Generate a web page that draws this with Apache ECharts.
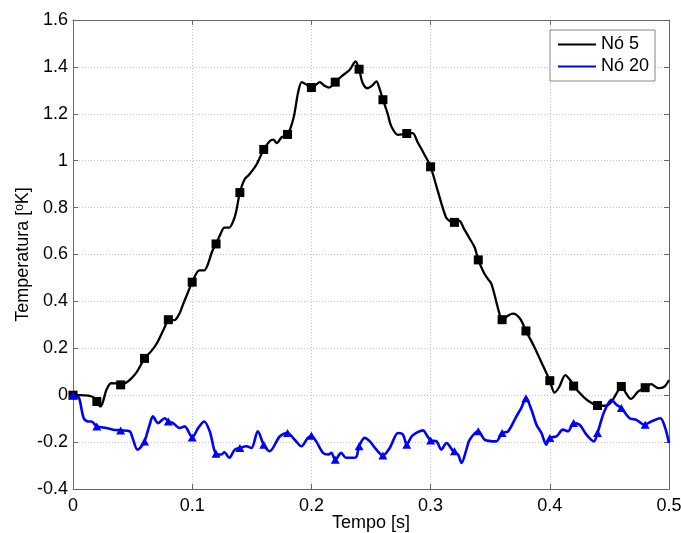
<!DOCTYPE html>
<html>
<head>
<meta charset="utf-8">
<script src="https://cdn.jsdelivr.net/npm/echarts@6/dist/echarts.min.js"></script>
<style>html,body{margin:0;padding:0;background:#fff;}#c{width:681px;height:533px;}</style>
</head>
<body>
<div id="c"></div>
<script>
// Nó 5 (black) line samples
const t5 = [0,0.006,0.013,0.018,0.020,0.023,0.025,0.028,0.032,0.036,0.040,0.045,0.049,0.053,0.056,0.060,0.066,0.071,0.077,0.080,0.085,0.089,0.092,0.096,0.100,0.106,0.110,0.117,0.120,0.124,0.127,0.131,0.135,0.137,0.140,0.144,0.148,0.154,0.160,0.165,0.168,0.171,0.175,0.180,0.185,0.189,0.192,0.196,0.200,0.204,0.207,0.211,0.215,0.220,0.225,0.232,0.237,0.240,0.243,0.247,0.251,0.2545,0.257,0.260,0.264,0.267,0.2727,0.276,0.280,0.285,0.289,0.294,0.300,0.306,0.313,0.317,0.320,0.324,0.328,0.333,0.337,0.340,0.344,0.347,0.351,0.357,0.360,0.3655,0.369,0.375,0.380,0.387,0.394,0.400,0.404,0.408,0.413,0.418,0.420,0.428,0.434,0.440,0.4475,0.452,0.456,0.460,0.464,0.468,0.474,0.480,0.485,0.491,0.496,0.500];
const y5 = [0,0.0,-0.002,-0.012,-0.027,-0.048,-0.03,0.022,0.051,0.05,0.044,0.055,0.072,0.095,0.121,0.157,0.19,0.227,0.291,0.322,0.32,0.345,0.383,0.433,0.482,0.532,0.532,0.616,0.645,0.69,0.715,0.715,0.75,0.786,0.864,0.921,0.942,0.984,1.048,1.083,1.09,1.075,1.1,1.112,1.182,1.295,1.335,1.324,1.312,1.325,1.335,1.32,1.312,1.335,1.359,1.387,1.423,1.39,1.331,1.309,1.32,1.338,1.31,1.26,1.2,1.147,1.11,1.112,1.116,1.118,1.08,1.034,0.974,0.871,0.758,0.74,0.737,0.744,0.71,0.666,0.63,0.577,0.53,0.503,0.475,0.362,0.322,0.341,0.348,0.327,0.274,0.206,0.129,0.062,0.011,0.036,0.086,0.058,0.039,-0.006,-0.03,-0.044,-0.045,-0.027,0.008,0.037,0.008,-0.016,0.015,0.032,0.047,0.03,0.036,0.065];
// Nó 20 (blue) line samples
const t20 = [0,0.004,0.0056,0.009,0.0126,0.0154,0.020,0.028,0.0336,0.040,0.0476,0.050,0.054,0.0574,0.060,0.0643,0.067,0.0713,0.077,0.080,0.084,0.0895,0.0937,0.100,0.105,0.110,0.1147,0.120,0.1245,0.127,0.131,0.1357,0.140,0.1455,0.1497,0.155,0.160,0.165,0.1734,0.180,0.186,0.1916,0.197,0.200,0.204,0.2097,0.214,0.2167,0.220,0.225,0.229,0.236,0.238,0.240,0.2447,0.249,0.2545,0.260,0.2657,0.2727,0.2768,0.280,0.284,0.288,0.2936,0.2965,0.300,0.305,0.309,0.3133,0.319,0.323,0.326,0.330,0.3328,0.340,0.3454,0.355,0.360,0.365,0.372,0.376,0.380,0.3846,0.3888,0.393,0.397,0.400,0.4055,0.411,0.4153,0.420,0.425,0.4307,0.437,0.440,0.4457,0.4517,0.456,0.460,0.467,0.4727,0.479,0.4852,0.4928,0.4964,0.500];
const y20 = [0,-0.005,-0.02,-0.098,-0.112,-0.112,-0.133,-0.14,-0.147,-0.15,-0.154,-0.183,-0.232,-0.218,-0.197,-0.126,-0.09,-0.119,-0.098,-0.112,-0.119,-0.14,-0.133,-0.18,-0.14,-0.112,-0.154,-0.25,-0.253,-0.243,-0.267,-0.232,-0.225,-0.218,-0.225,-0.154,-0.211,-0.239,-0.176,-0.161,-0.19,-0.218,-0.182,-0.173,-0.197,-0.246,-0.253,-0.246,-0.275,-0.246,-0.267,-0.267,-0.26,-0.218,-0.182,-0.197,-0.232,-0.257,-0.225,-0.161,-0.168,-0.211,-0.176,-0.161,-0.15,-0.168,-0.193,-0.197,-0.232,-0.204,-0.239,-0.253,-0.289,-0.232,-0.19,-0.154,-0.19,-0.197,-0.161,-0.154,-0.09,-0.055,-0.013,-0.062,-0.126,-0.161,-0.211,-0.182,-0.176,-0.147,-0.154,-0.119,-0.126,-0.168,-0.197,-0.161,-0.07,-0.02,-0.041,-0.055,-0.098,-0.105,-0.126,-0.112,-0.098,-0.133,-0.204];
// marker positions
const markT = [0,0.02,0.04,0.06,0.08,0.10,0.12,0.14,0.16,0.18,0.20,0.22,0.24,0.26,0.28,0.30,0.32,0.34,0.36,0.38,0.40,0.42,0.44,0.46,0.48];
const mark5 = [0,-0.027,0.044,0.157,0.322,0.482,0.645,0.864,1.048,1.112,1.312,1.335,1.39,1.26,1.116,0.974,0.737,0.577,0.322,0.274,0.062,0.039,-0.044,0.037,0.032];
const mark20 = [0,-0.133,-0.15,-0.197,-0.112,-0.18,-0.25,-0.225,-0.211,-0.161,-0.173,-0.275,-0.218,-0.257,-0.211,-0.193,-0.239,-0.154,-0.161,-0.013,-0.182,-0.119,-0.161,-0.055,-0.126];
const seriesNames = ['Nó 5','Nó 20'];
const xTitle = 'Tempo [s]';

const zip = (a,b)=>a.map((v,i)=>[v,b[i]]);
const FONT = 'Liberation Sans, Arial, sans-serif';
const FS = 18;
const axisCol = '#666';

const chart = echarts.init(document.getElementById('c'), null, {renderer:'canvas'});
const baseX = {type:'value',min:0,max:0.5,interval:0.1,gridIndex:0};
const baseY = {type:'value',min:-0.4,max:1.6,interval:0.2,gridIndex:0};
chart.setOption({
  animation:false,
  backgroundColor:'#fff',
  grid:{left:73,right:12,top:20,bottom:44,containLabel:false,outerBoundsMode:'none'},
  legend:{
    data:seriesNames.map(n=>({name:n,icon:'rect'})),
    orient:'vertical',
    left:550, top:30,
    padding:[4,6,4,8],
    itemGap:1,
    itemWidth:38, itemHeight:2,
    backgroundColor:'#fff',
    borderColor:'#888', borderWidth:1, borderRadius:0,
    textStyle:{fontFamily:FONT,fontSize:FS,color:'#000',lineHeight:21}
  },
  xAxis:[
    Object.assign({},baseX,{
      position:'bottom',
      name:xTitle, nameLocation:'middle', nameGap:25, nameMoveOverlap:false,
      nameTextStyle:{fontFamily:FONT,fontSize:FS,color:'#000'},
      axisLine:{show:true,onZero:false,lineStyle:{color:axisCol,width:1}},
      axisTick:{show:true,inside:true,length:5,lineStyle:{color:axisCol}},
      axisLabel:{fontFamily:FONT,fontSize:FS,color:'#000',margin:8},
      splitLine:{show:true,lineStyle:{type:[1,2],color:'#c4c4c4',width:1}}
    }),
    Object.assign({},baseX,{
      position:'top',
      axisLine:{show:true,onZero:false,lineStyle:{color:axisCol,width:1}},
      axisTick:{show:true,inside:true,length:5,lineStyle:{color:axisCol}},
      axisLabel:{show:false},
      splitLine:{show:false}
    })
  ],
  yAxis:[
    Object.assign({},baseY,{
      position:'left',
      name:'{a|Temperatura [}{s|o}{a|K]}', nameLocation:'middle', nameGap:40, nameRotate:90, nameMoveOverlap:false,
      nameTextStyle:{fontFamily:FONT,fontSize:FS,color:'#000',
        rich:{a:{fontFamily:FONT,fontSize:FS,color:'#000'},s:{fontFamily:FONT,fontSize:12,color:'#000',verticalAlign:'top',padding:[0,0,7,0]}}},
      axisLine:{show:true,onZero:false,lineStyle:{color:axisCol,width:1}},
      axisTick:{show:true,inside:true,length:5,lineStyle:{color:axisCol}},
      axisLabel:{fontFamily:FONT,fontSize:FS,color:'#000',margin:5},
      splitLine:{show:true,lineStyle:{type:[1,2],color:'#c4c4c4',width:1}}
    }),
    Object.assign({},baseY,{
      position:'right',
      axisLine:{show:true,onZero:false,lineStyle:{color:axisCol,width:1}},
      axisTick:{show:true,inside:true,length:5,lineStyle:{color:axisCol}},
      axisLabel:{show:false},
      splitLine:{show:false}
    })
  ],
  series:[
    {name:seriesNames[0],type:'line',xAxisIndex:0,yAxisIndex:0,data:zip(t5,y5),smooth:0.3,symbol:'none',
     lineStyle:{color:'#000',width:2.3},itemStyle:{color:'#000'},z:3},
    {name:seriesNames[1],type:'line',xAxisIndex:0,yAxisIndex:0,data:zip(t20,y20),smooth:0.3,symbol:'none',
     lineStyle:{color:'#0000ff',width:2.6},itemStyle:{color:'#0000ff'},z:4},
    {type:'scatter',xAxisIndex:0,yAxisIndex:0,data:zip(markT,mark5),symbol:'rect',symbolSize:9,
     itemStyle:{color:'#000',opacity:1},z:5,silent:true},
    {type:'scatter',xAxisIndex:0,yAxisIndex:0,data:zip(markT,mark20),symbol:'triangle',symbolSize:[9,8],
     itemStyle:{color:'#0000ff',opacity:1},z:6,silent:true}
  ]
});
</script>
</body>
</html>
